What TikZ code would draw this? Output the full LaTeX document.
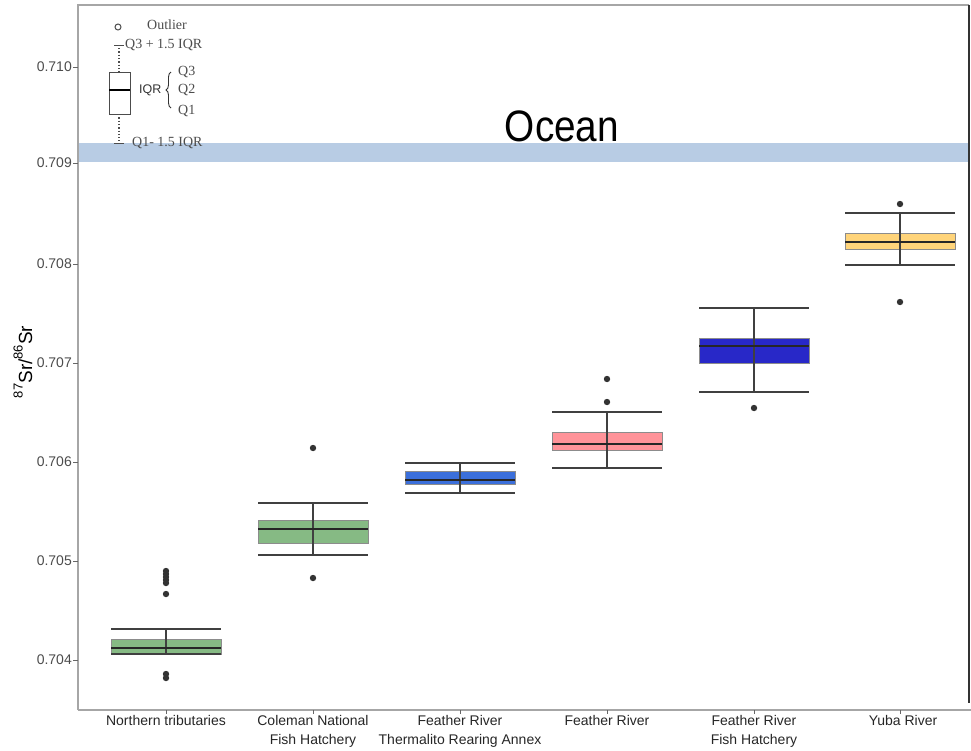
\documentclass[tikz,border=0pt]{standalone}
\usepackage{fontspec}
\setmainfont{Liberation Serif}
\setsansfont{Liberation Sans}
\usepackage{xcolor}
\usetikzlibrary{decorations.pathreplacing}

\definecolor{oceanblue}{HTML}{B8CCE4}
\definecolor{tribgreen}{HTML}{86BA84}
\definecolor{annexblue}{HTML}{3B6FDB}
\definecolor{riverpink}{HTML}{FF9399}
\definecolor{hatchblue}{HTML}{2828C8}
\definecolor{yubayellow}{HTML}{FFD47A}

\newcommand{\isotope}[1]{\raisebox{0.5em}{\fontsize{13}{13}\selectfont #1}}

\begin{document}
\begin{tikzpicture}[x=1pt, y=-1pt,
    panel/.style={draw=black!35, line width=1.3pt},
    boxbody/.style={draw=black!45, line width=0.8pt},
    whisker/.style={draw=black!75, line width=1.3pt},
    median/.style={draw=black!85, line width=2.4pt},
    outlier/.style={fill=black!80},
    ticklabel/.style={font=\sffamily\fontsize{14}{16}\selectfont, text=black!70, anchor=east, inner sep=0pt},
    catlabel/.style={font=\sffamily\fontsize{14}{19}\selectfont, text=black!85, align=center, anchor=north, inner sep=0pt},
    legendtext/.style={font=\fontsize{14}{16}\selectfont, text=black!70, anchor=west, inner sep=0pt},
]
    \useasboundingbox (0,0) rectangle (971,750);

    % ocean band
    \fill[oceanblue] (78,143) rectangle (969,162);
    \node[font=\sffamily\fontsize{44}{44}\selectfont, anchor=base, xscale=0.88, inner sep=0pt] (ocean) at (562,141.5) {Ocean};

    % panel
    \draw[panel] (78,710) -- (78,5) -- (969,5);
    \draw[panel] (78,710) -- (971,710);
    \draw[black!80, line width=1.3pt] (969,5) -- (969,703);

    % y axis
    \foreach \yv/\yp in {0.710/67, 0.709/163, 0.708/264, 0.707/363, 0.706/462, 0.705/561, 0.704/660} {
        \draw[black!60, line width=1pt] (73,\yp) -- (78,\yp);
        \node[ticklabel] (tick\yp) at (72,\yp) {\yv};
    }
    \node[rotate=90, anchor=base, inner sep=0pt, font=\sffamily\fontsize{19}{20}\selectfont] (ylab) at (32,362)
        {\isotope{87}Sr/\isotope{86}Sr};

    % boxes
    \foreach \cx/\wt/\bt/\md/\bb/\wb/\col in {
        166/629/639/648/654/654/tribgreen,
        313/503/520/529/543/555/tribgreen,
        460/463/471/480/484/493/annexblue,
        607/412/432/444/450/468/riverpink,
        754/308/338/346/363/392/hatchblue,
        900/213/233/242/249/265/yubayellow} {
        \filldraw[boxbody, fill=\col] (\cx-55,\bt) rectangle (\cx+55,\bb);
        \draw[whisker] (\cx-55,\wt) -- (\cx+55,\wt);
        \draw[whisker] (\cx-55,\wb) -- (\cx+55,\wb);
        \draw[whisker] (\cx,\wt) -- (\cx,\wb);
        \draw[median] (\cx-55,\md) -- (\cx+55,\md);
        \draw[black!60, line width=1pt] (\cx,710) -- (\cx,714);
    }

    % outliers
    \foreach \cx/\oy in {166/571, 166/574, 166/577, 166/580, 166/583, 166/594, 166/674, 166/678,
        313/448, 313/578, 607/379, 607/402, 754/408, 900/204, 900/302}
        \fill[outlier] (\cx,\oy) circle (3.2);

    % categories
    \node[catlabel] (trib) at (166,715.5) {Northern tributaries};
    \node[catlabel] (coleman) at (313,715.5) {Coleman National\\Fish Hatchery};
    \node[catlabel] (annex) at (460,715.5) {Feather River\\Thermalito Rearing Annex};
    \node[catlabel] (river) at (607,715.5) {Feather River};
    \node[catlabel] (hatchery) at (754,715.5) {Feather River\\Fish Hatchery};
    \node[catlabel] (yuba) at (903,715.5) {Yuba River};

    % legend
    \draw[black!70, line width=1pt] (118,27) circle (3);
    \node[legendtext] (lgout) at (147,25) {Outlier};
    \draw[black!70, line width=1pt] (114,45) -- (124,45);
    \node[legendtext] (lgup) at (125,45) {Q3 + 1.5 IQR};
    \draw[black!70, line width=1.3pt, dotted] (119,48) -- (119,72);
    \draw[black!70, line width=1.3pt, dotted] (119,114) -- (119,141);
    \filldraw[draw=black!70, fill=white, line width=1pt] (109,72) rectangle (130,114);
    \draw[black, line width=2.6pt] (109,90) -- (130,90);
    \node[anchor=west, inner sep=0pt, font=\sffamily\fontsize{12.5}{14}\selectfont, text=black!80] (lgiqr) at (139,90) {IQR};
    \draw[black!80, line width=0.9pt, decorate, decoration={brace, amplitude=5pt}] (171,108) -- (171,72);
    \node[legendtext] (lgq3) at (178,72) {Q3};
    \node[legendtext] (lgq2) at (178,90) {Q2};
    \node[legendtext] (lgq1) at (178,111) {Q1};
    \draw[black!70, line width=1pt] (114,143) -- (124,143);
    \node[legendtext] (lglow) at (132,143) {Q1- 1.5 IQR};
\end{tikzpicture}
\end{document}
